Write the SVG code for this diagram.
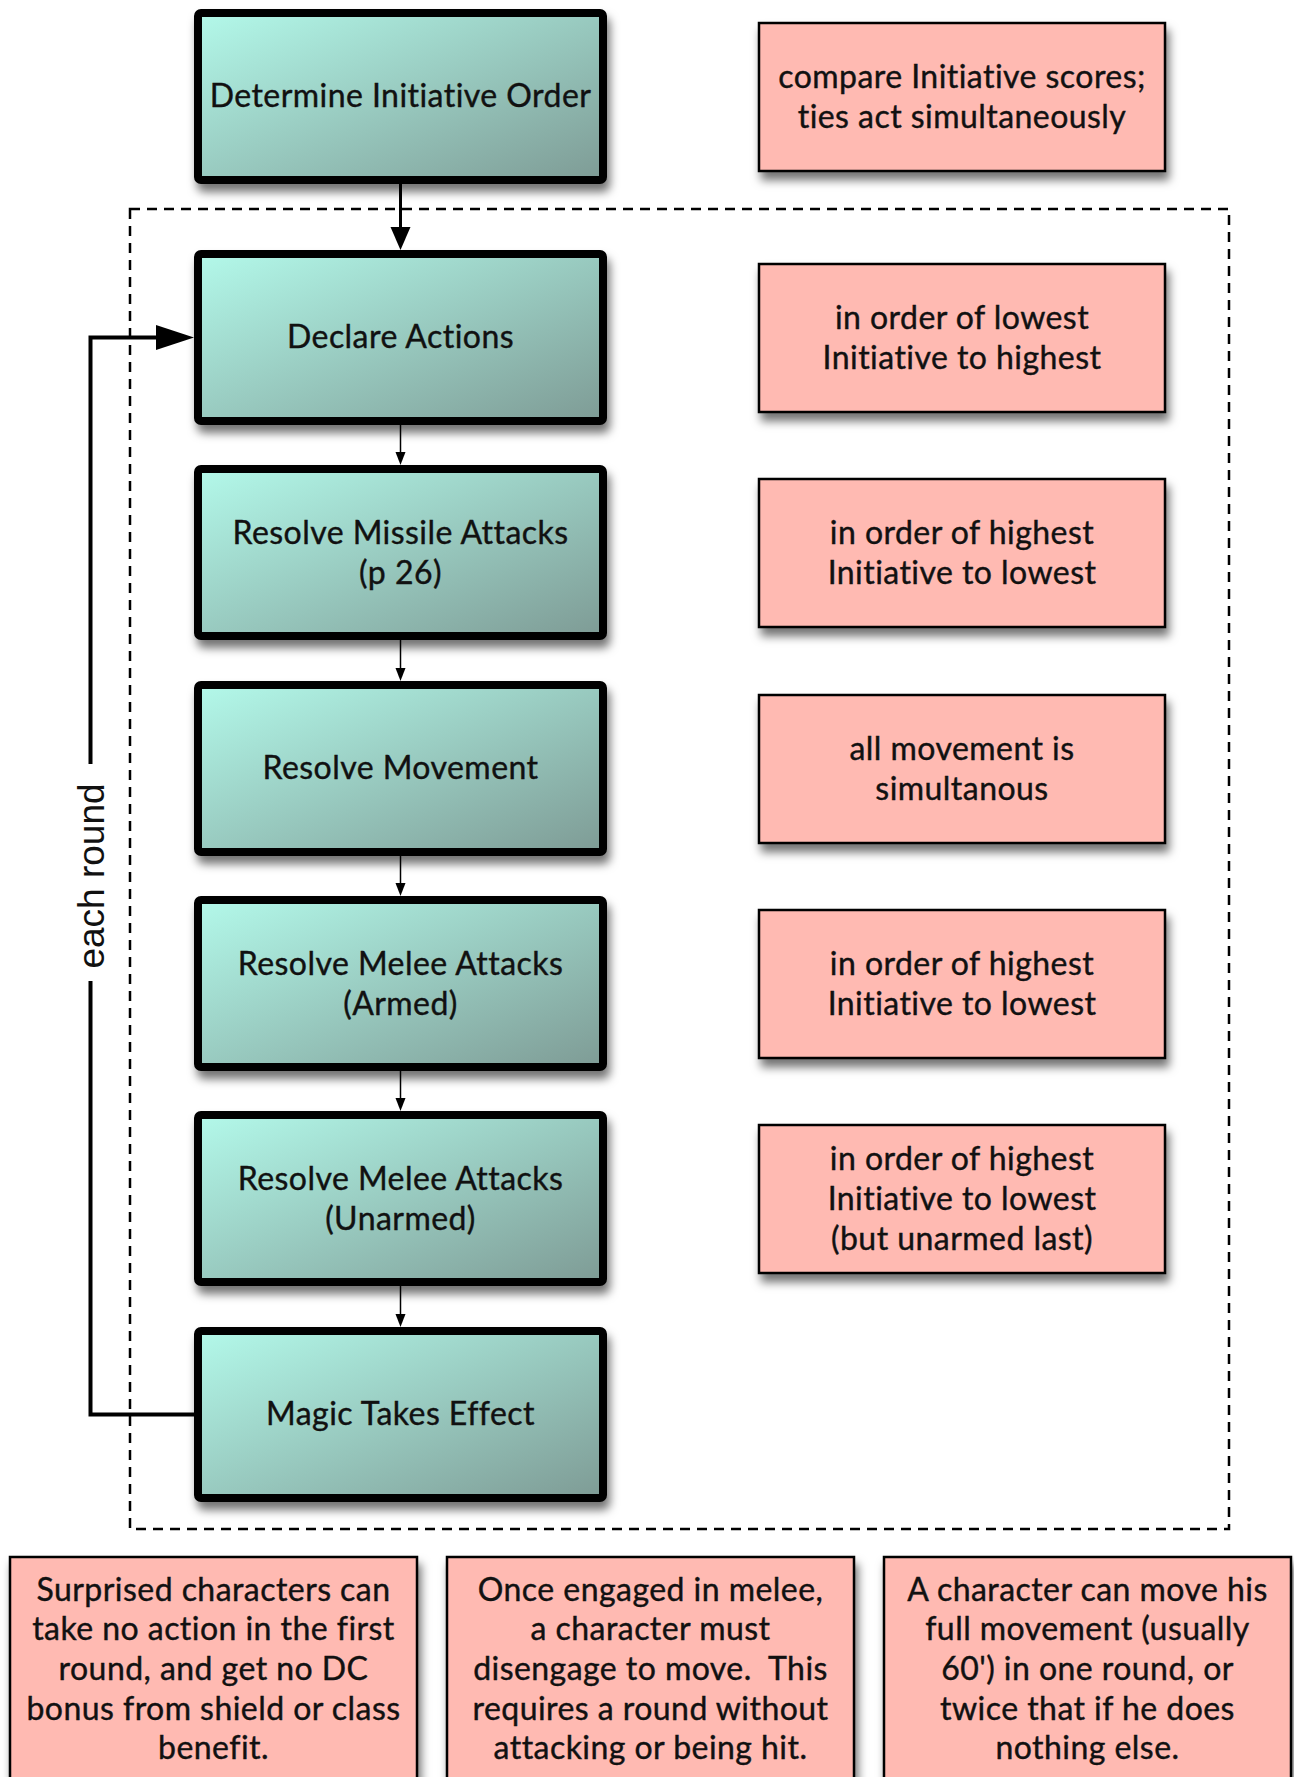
<svg xmlns="http://www.w3.org/2000/svg" width="1294" height="1777" viewBox="0 0 1294 1777">
<defs>
<linearGradient id="tg" x1="0" y1="0" x2="1" y2="1">
<stop offset="0" stop-color="#b3f9ea"/>
<stop offset="1" stop-color="#7e9b95"/>
</linearGradient>
<filter id="sh" x="-10%" y="-10%" width="125%" height="135%">
<feDropShadow dx="3" dy="8" stdDeviation="5" flood-color="#000" flood-opacity="0.55"/>
</filter>
<style>
.teal{fill:url(#tg);stroke:#000;stroke-width:8;filter:url(#sh)}
.pink{fill:#ffbab2;stroke:#000;stroke-width:2.5;filter:url(#sh)}
.t{font-family:Lato,"Noto Sans",sans-serif;font-size:32px;letter-spacing:0.45px;fill:#111;stroke:#111;stroke-width:0.4px;text-anchor:middle;white-space:pre}
.conn{fill:none;stroke:#000}
</style>
</defs>
<rect x="130" y="209" width="1099" height="1320" fill="none" stroke="#000" stroke-width="2.5" stroke-dasharray="10 7"/>
<g id="connectors">
<line class="conn" x1="400.5" y1="184" x2="400.5" y2="232" stroke-width="3"/>
<polygon points="400.5,250 390.5,227 410.5,227"/>
<line class="conn" x1="400.5" y1="425" x2="400.5" y2="455" stroke-width="1.5"/>
<polygon points="400.5,465 395.5,452 405.5,452"/>
<line class="conn" x1="400.5" y1="640" x2="400.5" y2="671" stroke-width="1.5"/>
<polygon points="400.5,681 395.5,668 405.5,668"/>
<line class="conn" x1="400.5" y1="856" x2="400.5" y2="886" stroke-width="1.5"/>
<polygon points="400.5,896 395.5,883 405.5,883"/>
<line class="conn" x1="400.5" y1="1071" x2="400.5" y2="1101" stroke-width="1.5"/>
<polygon points="400.5,1111 395.5,1098 405.5,1098"/>
<line class="conn" x1="400.5" y1="1286" x2="400.5" y2="1317" stroke-width="1.5"/>
<polygon points="400.5,1327 395.5,1314 405.5,1314"/>
<path class="conn" d="M194,1414.5 H90.5 V981" stroke-width="4"/>
<path class="conn" d="M90.5,764 V337.5 H160" stroke-width="4"/>
<polygon points="194,337.5 156,325 156,350"/>
<text transform="translate(104,876) rotate(-90)" font-family="'Liberation Sans',Arial,sans-serif" font-size="37" text-anchor="middle" fill="#111">each round</text>
</g>
<g id="n1"><rect class="teal" x="198" y="13" width="405" height="167" rx="3"/><text class="t" x="400.5" y="107">Determine Initiative Order</text></g>
<g id="n2"><rect class="teal" x="198" y="254" width="405" height="167" rx="3"/><text class="t" x="400.5" y="348">Declare Actions</text></g>
<g id="n3"><rect class="teal" x="198" y="469" width="405" height="167" rx="3"/><text class="t" x="400.5" y="544">Resolve Missile Attacks</text><text class="t" x="400.5" y="584">(p 26)</text></g>
<g id="n4"><rect class="teal" x="198" y="685" width="405" height="167" rx="3"/><text class="t" x="400.5" y="779">Resolve Movement</text></g>
<g id="n5"><rect class="teal" x="198" y="900" width="405" height="167" rx="3"/><text class="t" x="400.5" y="975">Resolve Melee Attacks</text><text class="t" x="400.5" y="1015">(Armed)</text></g>
<g id="n6"><rect class="teal" x="198" y="1115" width="405" height="167" rx="3"/><text class="t" x="400.5" y="1190">Resolve Melee Attacks</text><text class="t" x="400.5" y="1230">(Unarmed)</text></g>
<g id="n7"><rect class="teal" x="198" y="1331" width="405" height="167" rx="3"/><text class="t" x="400.5" y="1425">Magic Takes Effect</text></g>
<g id="p1"><rect class="pink" x="759" y="23" width="406" height="148"/><text class="t" x="962" y="88">compare Initiative scores;</text><text class="t" x="962" y="128">ties act simultaneously</text></g>
<g id="p2"><rect class="pink" x="759" y="264" width="406" height="148"/><text class="t" x="962" y="329">in order of lowest</text><text class="t" x="962" y="369">Initiative to highest</text></g>
<g id="p3"><rect class="pink" x="759" y="479" width="406" height="148"/><text class="t" x="962" y="544">in order of highest</text><text class="t" x="962" y="584">Initiative to lowest</text></g>
<g id="p4"><rect class="pink" x="759" y="695" width="406" height="148"/><text class="t" x="962" y="760">all movement is</text><text class="t" x="962" y="800">simultanous</text></g>
<g id="p5"><rect class="pink" x="759" y="910" width="406" height="148"/><text class="t" x="962" y="975">in order of highest</text><text class="t" x="962" y="1015">Initiative to lowest</text></g>
<g id="p6"><rect class="pink" x="759" y="1125" width="406" height="148"/><text class="t" x="962" y="1170">in order of highest</text><text class="t" x="962" y="1210">Initiative to lowest</text><text class="t" x="962" y="1250">(but unarmed last)</text></g>
<g id="b1"><rect class="pink" x="10" y="1557" width="407" height="260"/><text class="t" x="213.5" y="1601">Surprised characters can</text><text class="t" x="213.5" y="1640">take no action in the first</text><text class="t" x="213.5" y="1680">round, and get no DC</text><text class="t" x="213.5" y="1720">bonus from shield or class</text><text class="t" x="213.5" y="1759">benefit.</text></g>
<g id="b2"><rect class="pink" x="447" y="1557" width="407" height="260"/><text class="t" x="650.5" y="1601">Once engaged in melee,</text><text class="t" x="650.5" y="1640">a character must</text><text class="t" x="650.5" y="1680">disengage to move.  This</text><text class="t" x="650.5" y="1720">requires a round without</text><text class="t" x="650.5" y="1759">attacking or being hit.</text></g>
<g id="b3"><rect class="pink" x="884" y="1557" width="407" height="260"/><text class="t" x="1087.5" y="1601">A character can move his</text><text class="t" x="1087.5" y="1640">full movement (usually</text><text class="t" x="1087.5" y="1680">60') in one round, or</text><text class="t" x="1087.5" y="1720">twice that if he does</text><text class="t" x="1087.5" y="1759">nothing else.</text></g>
</svg>
